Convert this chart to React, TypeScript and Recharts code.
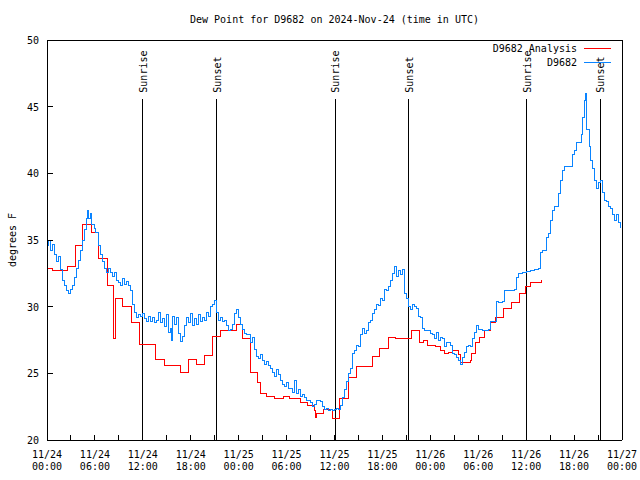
import { LineChart, Line, XAxis, YAxis, ReferenceLine } from 'recharts';

// hours since 11/24 00:00 UTC, dew point in degrees F
const analysisPoints: [number, number][] = [
  [0.0, 32.9], [0.75, 32.75], [2.6, 33.05], [3.6, 34.6], [4.5, 36.2], [5.6, 35.6],
  [6.5, 33.6], [7.6, 31.6], [8.3, 27.6], [8.6, 30.65], [9.5, 30.0], [10.6, 28.85],
  [11.6, 27.2], [13.6, 26.05], [14.7, 25.6], [16.7, 25.1], [17.7, 26.05], [18.7, 25.7],
  [19.7, 26.35], [20.7, 27.8], [21.7, 28.25], [23.7, 28.7], [24.5, 27.6], [25.5, 25.1],
  [26.4, 24.35], [26.7, 23.5], [27.5, 23.3], [28.5, 23.1], [29.6, 23.3], [30.4, 23.1],
  [31.7, 22.8], [32.6, 22.6], [33.5, 22.2], [33.6, 21.7], [33.8, 22.0], [34.6, 22.3],
  [35.7, 21.65], [36.6, 23.1], [37.7, 24.7], [38.7, 25.5], [40.7, 26.3], [41.6, 26.9],
  [42.7, 27.7], [43.6, 27.65], [44.6, 27.6], [45.7, 28.25], [46.7, 27.35], [47.1, 27.5],
  [47.7, 27.1], [48.6, 27.0], [49.3, 26.75], [49.8, 26.5], [50.3, 26.6], [50.8, 26.75],
  [51.5, 26.4], [51.8, 25.85], [53.0, 26.0], [53.2, 26.5], [53.7, 27.35], [54.2, 27.7],
  [54.8, 28.25], [55.5, 28.85], [56.2, 29.2], [57.1, 29.9], [58.2, 30.35], [59.2, 31.0],
  [59.9, 31.5], [60.5, 31.8], [61.9, 32.0],
];

const stationPoints: [number, number][] = [
  [0.0, 34.6], [0.25, 35.0], [0.5, 34.2], [0.75, 34.7], [1.0, 33.9], [1.25, 33.4],
  [1.5, 33.8], [1.75, 32.8], [2.0, 32.0], [2.25, 31.6], [2.5, 31.2], [2.75, 31.0],
  [3.0, 31.3], [3.25, 31.6], [3.5, 32.2], [3.75, 32.9], [4.0, 33.5], [4.25, 34.2],
  [4.5, 35.0], [4.75, 35.8], [5.0, 36.6], [5.1, 37.2], [5.25, 36.6], [5.4, 37.0],
  [5.6, 36.2], [5.9, 35.9], [6.1, 35.6], [6.4, 35.1], [6.5, 34.6], [6.75, 33.9],
  [7.0, 33.4], [7.25, 32.9], [7.5, 32.6], [7.75, 32.9], [8.0, 32.6], [8.25, 32.3],
  [8.5, 32.6], [8.75, 32.0], [9.0, 31.8], [9.25, 31.6], [9.5, 32.1], [9.75, 31.7],
  [10.0, 31.9], [10.25, 31.6], [10.5, 31.2], [10.75, 30.2], [11.0, 29.6], [11.25, 29.2],
  [11.5, 29.4], [11.75, 29.3], [12.0, 29.5], [12.25, 29.1], [12.5, 28.9], [12.75, 29.3],
  [13.0, 28.9], [13.25, 29.2], [13.5, 28.85], [13.75, 29.0], [14.0, 29.6], [14.25, 28.8],
  [14.5, 29.1], [14.75, 28.5], [15.0, 29.4], [15.25, 28.1], [15.5, 28.4], [15.6, 27.5],
  [15.75, 29.3], [16.0, 28.7], [16.25, 29.2], [16.5, 28.0], [16.75, 27.4], [17.0, 27.8],
  [17.25, 28.6], [17.5, 29.2], [17.75, 28.8], [18.0, 29.5], [18.25, 28.6], [18.5, 29.1],
  [18.75, 28.7], [19.0, 29.4], [19.25, 28.9], [19.5, 29.2], [19.75, 29.0], [20.0, 29.6],
  [20.25, 29.3], [20.5, 30.0], [20.75, 30.2], [21.0, 30.5], [21.25, 29.6], [21.5, 29.0],
  [21.75, 29.2], [22.0, 28.9], [22.25, 29.0], [22.5, 28.6], [22.75, 28.25], [23.0, 28.3],
  [23.25, 28.7], [23.5, 29.5], [23.75, 29.8], [24.0, 29.2], [24.25, 28.7], [24.5, 28.3],
  [24.75, 28.0], [25.0, 27.9], [25.25, 27.9], [25.5, 27.3], [25.75, 27.7], [26.0, 26.8],
  [26.25, 26.3], [26.5, 26.1], [26.75, 26.4], [27.0, 26.0], [27.25, 25.7], [27.5, 25.9],
  [27.75, 25.6], [28.0, 25.4], [28.25, 25.1], [28.5, 24.8], [28.75, 25.3], [29.0, 24.9],
  [29.25, 24.5], [29.5, 24.2], [29.75, 24.0], [30.0, 24.3], [30.25, 23.9], [30.5, 23.9],
  [30.75, 23.6], [31.0, 24.5], [31.25, 23.5], [31.5, 23.8], [31.75, 23.3], [32.0, 23.4],
  [32.25, 23.2], [32.5, 23.0], [32.75, 23.0], [33.0, 22.8], [33.25, 22.5], [33.5, 22.7],
  [33.75, 23.0], [34.0, 23.0], [34.25, 22.9], [34.5, 22.5], [34.75, 22.3], [35.0, 22.4],
  [35.25, 22.2], [35.5, 22.3], [35.75, 22.25], [36.0, 22.3], [36.25, 22.4], [36.5, 22.3],
  [36.75, 22.6], [37.0, 23.2], [37.25, 23.8], [37.5, 24.4], [37.75, 25.0], [38.0, 25.4],
  [38.25, 26.5], [38.5, 26.7], [38.75, 27.1], [39.0, 27.0], [39.25, 27.9], [39.5, 28.4],
  [39.75, 28.0], [40.0, 28.2], [40.25, 28.8], [40.5, 29.0], [40.75, 29.5], [41.0, 29.8],
  [41.25, 30.2], [41.5, 30.1], [41.75, 30.6], [42.0, 30.5], [42.25, 31.3], [42.5, 31.2],
  [42.75, 31.5], [43.0, 32.0], [43.25, 32.5], [43.5, 33.0], [43.75, 32.3], [44.0, 32.7],
  [44.25, 32.4], [44.5, 32.8], [44.75, 31.0], [45.0, 30.6], [45.25, 30.0], [45.5, 29.8],
  [45.75, 30.2], [46.0, 30.0], [46.25, 29.9], [46.5, 29.3], [46.75, 29.2], [47.0, 28.4],
  [47.25, 28.2], [47.5, 28.2], [47.75, 28.2], [48.0, 28.0], [48.25, 27.9], [48.5, 27.6],
  [48.75, 28.1], [49.0, 27.5], [49.25, 27.7], [49.5, 27.6], [49.75, 27.0], [50.0, 27.3],
  [50.25, 27.3], [50.5, 27.1], [50.75, 26.5], [51.0, 26.4], [51.25, 26.2], [51.5, 26.0],
  [51.75, 25.7], [52.0, 26.2], [52.25, 26.6], [52.5, 27.0], [52.75, 27.1], [53.0, 27.0],
  [53.25, 27.6], [53.5, 28.1], [53.75, 28.6], [54.0, 28.3], [54.5, 28.25], [55.0, 28.25],
  [55.25, 28.3], [55.5, 28.9], [56.0, 28.9], [56.25, 30.4], [56.5, 30.3], [57.0, 30.4],
  [57.25, 31.2], [58.0, 31.25], [58.5, 31.3], [58.75, 32.2], [59.0, 32.5], [59.5, 32.6],
  [60.0, 32.65], [60.5, 32.7], [61.0, 32.8], [61.5, 32.9], [61.75, 34.1], [62.0, 34.2],
  [62.5, 35.2], [62.75, 35.5], [63.0, 36.5], [63.25, 37.25], [63.5, 37.5], [64.0, 38.5],
  [64.25, 39.5], [64.5, 40.25], [64.75, 40.5], [65.5, 40.5], [65.75, 41.4], [66.0, 41.75],
  [66.25, 42.35], [66.75, 42.35], [66.9, 42.9], [67.0, 44.2], [67.25, 45.5], [67.4, 46.0],
  [67.5, 45.1], [67.6, 43.3], [67.9, 42.0], [68.1, 41.0], [68.3, 40.4], [68.5, 39.5],
  [68.8, 38.9], [69.0, 39.3], [69.25, 39.5], [69.5, 38.6], [69.75, 38.0], [70.0, 37.9],
  [70.25, 37.5], [70.5, 37.4], [70.75, 36.9], [71.0, 36.5], [71.25, 36.9], [71.5, 36.3],
  [71.75, 35.9],
];

const sunEvents: [number, string][] = [
  [12.0, 'Sunrise'], [21.25, 'Sunset'], [36.1, 'Sunrise'],
  [45.3, 'Sunset'], [60.1, 'Sunrise'], [69.3, 'Sunset'],
];

const xTicks = [0, 3, 6, 9, 12, 15, 18, 21, 24, 27, 30, 33, 36, 39, 42, 45, 48, 51, 54, 57, 60, 63, 66, 69, 72];
const dayLabels = ['11/24', '11/24', '11/24', '11/24', '11/25', '11/25', '11/25', '11/25', '11/26', '11/26', '11/26', '11/26', '11/27'];
const timeLabels = ['00:00', '06:00', '12:00', '18:00', '00:00', '06:00', '12:00', '18:00', '00:00', '06:00', '12:00', '18:00', '00:00'];
const yTicks = [20, 25, 30, 35, 40, 45, 50];

const analysisData = analysisPoints.map(([h, v]) => ({ h, v }));
const stationData = stationPoints.map(([h, v]) => ({ h, v }));

const FONT = '"DejaVu Sans Mono", monospace';
const PLOT_LEFT = 47;
const PLOT_RIGHT = 622;
const PLOT_TOP = 40;
const PLOT_BOTTOM = 440;

const BottomTick = (props: any) => {
  const x = props.x;
  const h = props.payload.value;
  const i = h / 6;
  return (
    <g>
      <line x1={x} x2={x} y1={PLOT_BOTTOM} y2={PLOT_BOTTOM - 5} stroke="#000" />
      {h % 6 === 0 && (
        <text fontFamily={FONT} fontSize={10} textAnchor="middle" fill="#000">
          <tspan x={x} y={PLOT_BOTTOM + 18}>{dayLabels[i]}</tspan>
          <tspan x={x} y={PLOT_BOTTOM + 30}>{timeLabels[i]}</tspan>
        </text>
      )}
    </g>
  );
};

const TopTick = (props: any) => (
  <line x1={props.x} x2={props.x} y1={PLOT_TOP} y2={PLOT_TOP + 5} stroke="#000" />
);

const LeftTick = (props: any) => (
  <g>
    <line x1={PLOT_LEFT} x2={PLOT_LEFT + 6} y1={props.y} y2={props.y} stroke="#000" />
    <text x={39} y={props.y + 4} fontFamily={FONT} fontSize={10} textAnchor="end" fill="#000">
      {props.payload.value}
    </text>
  </g>
);

const RightTick = (props: any) => (
  <line x1={PLOT_RIGHT} x2={PLOT_RIGHT - 6} y1={props.y} y2={props.y} stroke="#000" />
);

const SunLabel = (props: any) => {
  const vb = props.viewBox || {};
  const tx = vb.x + 4;
  const ty = vb.y - 6;
  return (
    <text
      x={tx}
      y={ty}
      transform={`rotate(-90, ${tx}, ${ty})`}
      fontFamily={FONT}
      fontSize={10}
      textAnchor="start"
      fill="#000"
    >
      {props.text}
    </text>
  );
};

const App = () => {
  return (
    <div
      style={{
        position: 'absolute',
        left: 0,
        top: 0,
        width: 640,
        height: 480,
        background: '#fff',
        shapeRendering: 'crispEdges',
      }}
    >
      <LineChart width={640} height={480} margin={{ top: 0, right: 0, bottom: 0, left: 0 }}>
        <XAxis
          dataKey="h"
          type="number"
          domain={[0, 72]}
          ticks={xTicks}
          interval={0}
          height={40}
          tickSize={0}
          tickMargin={0}
          tickLine={false}
          axisLine={{ stroke: '#000' }}
          tick={(p: any) => <BottomTick {...p} />}
          allowDataOverflow
        />
        <XAxis
          xAxisId="top"
          orientation="top"
          dataKey="h"
          type="number"
          domain={[0, 72]}
          ticks={xTicks}
          interval={0}
          height={40}
          tickSize={0}
          tickMargin={0}
          tickLine={false}
          axisLine={{ stroke: '#000' }}
          tick={(p: any) => <TopTick {...p} />}
        />
        <YAxis
          type="number"
          domain={[20, 50]}
          ticks={yTicks}
          interval={0}
          width={47}
          tickSize={0}
          tickMargin={0}
          tickLine={false}
          axisLine={{ stroke: '#000' }}
          tick={(p: any) => <LeftTick {...p} />}
          allowDataOverflow
        />
        <YAxis
          yAxisId="right"
          orientation="right"
          type="number"
          domain={[20, 50]}
          ticks={yTicks}
          interval={0}
          width={18}
          tickSize={0}
          tickMargin={0}
          tickLine={false}
          axisLine={{ stroke: '#000' }}
          tick={(p: any) => <RightTick {...p} />}
        />
        {sunEvents.map(([h, name], idx) => (
          <ReferenceLine
            key={`sun-${idx}`}
            segment={[{ x: h, y: 45.6 }, { x: h, y: 20 }]}
            stroke="#000"
            strokeWidth={1}
            label={<SunLabel text={name} />}
          />
        ))}
        <Line
          data={analysisData}
          dataKey="v"
          type="stepAfter"
          stroke="#ff0000"
          strokeWidth={1}
          dot={false}
          activeDot={false}
          isAnimationActive={false}
        />
        <Line
          data={stationData}
          dataKey="v"
          type="stepAfter"
          stroke="#0a84ff"
          strokeWidth={1}
          dot={false}
          activeDot={false}
          isAnimationActive={false}
        />
      </LineChart>
      <div
        style={{
          position: 'absolute',
          left: 0,
          top: 13,
          width: 669,
          textAlign: 'center',
          fontFamily: FONT,
          fontSize: 10,
          lineHeight: '14px',
          color: '#000',
        }}
      >
        Dew Point for D9682 on 2024-Nov-24 (time in UTC)
      </div>
      <div
        style={{
          position: 'absolute',
          left: 6,
          top: 240,
          transform: 'translate(-50%, -50%) rotate(-90deg) translate(0, 6px)',
          fontFamily: FONT,
          fontSize: 10,
          whiteSpace: 'nowrap',
          color: '#000',
        }}
      >
        degrees F
      </div>
      <svg width={640} height={80} style={{ position: 'absolute', left: 0, top: 0, pointerEvents: 'none' }}>
        <text x={577} y={52} fontFamily={FONT} fontSize={10} textAnchor="end" fill="#000">
          D9682 Analysis
        </text>
        <line x1={584} x2={611} y1={48} y2={48} stroke="#ff0000" />
        <text x={577} y={66} fontFamily={FONT} fontSize={10} textAnchor="end" fill="#000">
          D9682
        </text>
        <line x1={584} x2={611} y1={62} y2={62} stroke="#0a84ff" />
      </svg>
    </div>
  );
};

export default App;
